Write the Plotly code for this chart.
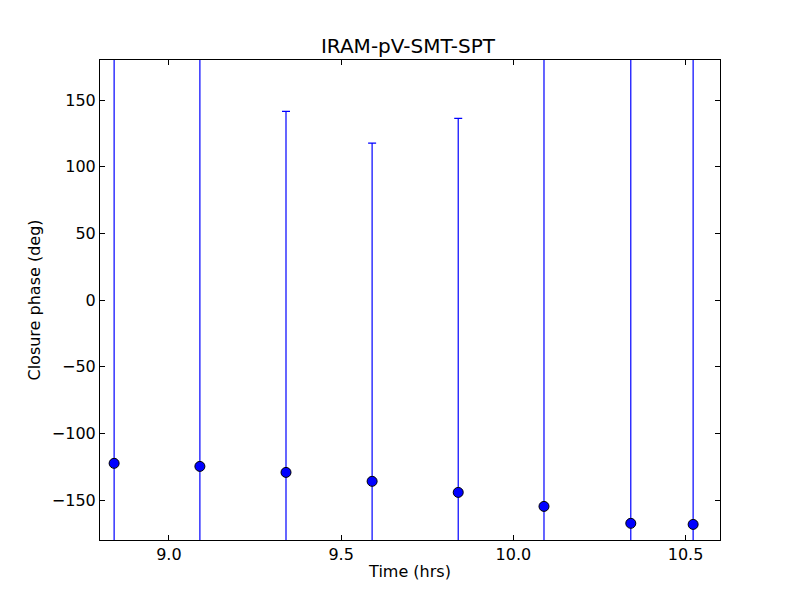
import plotly.graph_objects as go

# Closure phase on IRAM-pV-SMT-SPT triangle
time_hrs = [8.841, 9.090, 9.340, 9.590, 9.840, 10.089, 10.341, 10.522]
closure_phase = [-122.5, -124.8, -129.3, -136.0, -144.3, -154.8, -167.5, -168.3]
phase_err = [360.0, 350.0, 270.8, 253.7, 280.5, 370.0, 380.0, 390.0]

BLUE = '#0000ff'

fig = go.Figure()

fig.add_trace(go.Scatter(
    x=time_hrs,
    y=closure_phase,
    mode='markers',
    marker=dict(size=10, color=BLUE, line=dict(width=1, color='black')),
    error_y=dict(type='data', array=phase_err, symmetric=True,
                 color=BLUE, thickness=1.2, width=4),
    showlegend=False,
))

axis_style = dict(
    showline=True, linecolor='black', linewidth=1,
    mirror='ticks', ticks='inside', ticklen=5, tickcolor='black',
    showgrid=False, zeroline=False, automargin=False,
    tickfont=dict(family='DejaVu Sans', size=16, color='black'),
)

# page body adds an 8px offset, so margins are shifted to compensate
fig.update_layout(
    width=800, height=600,
    margin=dict(l=92, r=88, t=52, b=68),
    plot_bgcolor='white', paper_bgcolor='white',
    title=dict(text='IRAM-pV-SMT-SPT', x=0.5, xanchor='center',
               y=0.9367, yanchor='middle', automargin=False,
               font=dict(family='DejaVu Sans', size=20, color='black')),
    font=dict(family='DejaVu Sans', color='black'),
)

fig.update_xaxes(range=[8.8, 10.6], tickvals=[9.0, 9.5, 10.0, 10.5],
                 tickformat='.1f',
                 title=dict(text='Time (hrs)', standoff=2,
                            font=dict(family='DejaVu Sans', size=16)),
                 **axis_style)
fig.update_yaxes(range=[-180, 180], tickvals=[-150, -100, -50, 0, 50, 100, 150],
                 title=dict(text='Closure phase (deg)', standoff=7,
                            font=dict(family='DejaVu Sans', size=16)),
                 **axis_style)

fig.write_html("out.html")
